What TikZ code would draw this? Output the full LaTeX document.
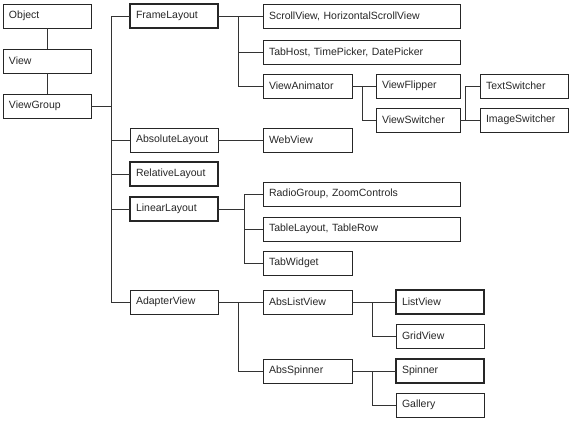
\documentclass[tikz,border=0pt]{standalone}
\usepackage{fontspec}
\setmainfont{Liberation Sans}
\begin{document}
\begin{tikzpicture}[x=1pt,y=-1pt,
  box/.style={draw=black!85, line width=0.9pt, rectangle, anchor=north west, minimum height=24pt, inner xsep=6pt, inner ysep=0pt, outer sep=0pt, align=left, font=\fontsize{10.5}{12}\selectfont, text=black!85},
  thickbox/.style={box, line width=1.8pt},
  w88/.style={text width=76pt},
  w89/.style={text width=77pt},
  w84/.style={text width=72pt},
  w197/.style={text width=185pt},
  conn/.style={draw=black!80, line width=0.9pt}]
\useasboundingbox (0,0) rectangle (575,434);
% column 1
\node[box,w88] (obj) at (3,4) {Object};
\node[box,w88] (view) at (3,49) {View};
\node[box,w88] (vg) at (3,94) {ViewGroup};
% column 2
\node[thickbox,w88] (fl) at (130,4) {FrameLayout};
\node[box,w88] (abl) at (130,128) {AbsoluteLayout};
\node[thickbox,w88] (rl) at (130,162) {RelativeLayout};
\node[thickbox,w88] (ll) at (130,197) {LinearLayout};
\node[box,w88] (av) at (130,290) {AdapterView};
% column 3
\node[box,w197] (sv) at (263,4) {ScrollView, HorizontalScrollView};
\node[box,w197] (th) at (263,40) {TabHost, TimePicker, DatePicker};
\node[box,w89] (va) at (263,74) {ViewAnimator};
\node[box,w89] (wv) at (263,128) {WebView};
\node[box,w197] (rg) at (263,182) {RadioGroup, ZoomControls};
\node[box,w197] (tl) at (263,217) {TableLayout, TableRow};
\node[box,w89] (tw) at (263,251) {TabWidget};
\node[box,w89] (alv) at (263,290) {AbsListView};
\node[box,w89] (as) at (263,359) {AbsSpinner};
% column 4
\node[box,w84] (vf) at (376,74) {ViewFlipper};
\node[box,w84] (vs) at (376,108) {ViewSwitcher};
\node[thickbox,w88] (lv) at (396,290) {ListView};
\node[box,w88] (gv) at (396,324) {GridView};
\node[thickbox,w88] (sp) at (396,359) {Spinner};
\node[box,w88] (ga) at (396,393) {Gallery};
% column 5
\node[box,w88] (ts) at (480,74) {TextSwitcher};
\node[box,w88] (is) at (480,108) {ImageSwitcher};
% trunks
\coordinate (t1) at (111,0);
\coordinate (t2) at (238,0);
\coordinate (t3) at (362,0);
\coordinate (t4) at (465,0);
\coordinate (t5) at (244,0);
\coordinate (t6) at (238,0);
\coordinate (t7) at (372,0);
% connectors
\draw[conn] (obj) -- (view);
\draw[conn] (view) -- (vg);
\draw[conn] (vg.east) -- (vg.east -| t1);
\draw[conn] (fl.west) -| (t1 |- av.west) -- (av.west);
\draw[conn] (t1 |- abl.west) -- (abl.west);
\draw[conn] (t1 |- rl.west) -- (rl.west);
\draw[conn] (t1 |- ll.west) -- (ll.west);
% FrameLayout
\draw[conn] (fl.east) -- (sv.west);
\draw[conn] (t2 |- sv.west) |- (va.west);
\draw[conn] (t2 |- th.west) -- (th.west);
% ViewAnimator
\draw[conn] (va.east) -- (vf.west);
\draw[conn] (t3 |- vf.west) |- (vs.west);
% ViewSwitcher
\draw[conn] (vs.east) -- (is.west);
\draw[conn] (t4 |- is.west) |- (ts.west);
% AbsoluteLayout
\draw[conn] (abl.east) -- (wv.west);
% LinearLayout
\draw[conn] (ll.east) -- (ll.east -| t5);
\draw[conn] (rg.west) -| (t5 |- tw.west) -- (tw.west);
\draw[conn] (t5 |- tl.west) -- (tl.west);
% AdapterView
\draw[conn] (av.east) -- (alv.west);
\draw[conn] (t6 |- alv.west) |- (as.west);
% AbsListView
\draw[conn] (alv.east) -- (lv.west);
\draw[conn] (t7 |- lv.west) |- (gv.west);
% AbsSpinner
\draw[conn] (as.east) -- (sp.west);
\draw[conn] (t7 |- sp.west) |- (ga.west);
\end{tikzpicture}
\end{document}
